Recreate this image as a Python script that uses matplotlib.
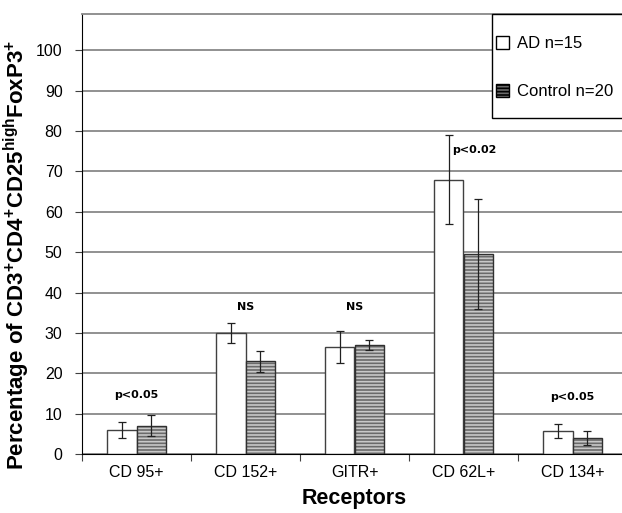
import matplotlib
matplotlib.use("Agg")
import matplotlib.pyplot as plt
from matplotlib.patches import Patch, Rectangle
import numpy as np

plt.rcParams['font.family'] = 'Liberation Sans'
plt.rcParams['mathtext.fontset'] = 'custom'
plt.rcParams['mathtext.rm'] = 'Liberation Sans:bold'
plt.rcParams['mathtext.it'] = 'Liberation Sans:bold'
plt.rcParams['mathtext.bf'] = 'Liberation Sans:bold'

receptors = ["CD 95+", "CD 152+", "GITR+", "CD 62L+", "CD 134+"]
ad_mean = [6.0, 30.0, 26.5, 68.0, 5.7]
ad_err = [2.0, 2.5, 4.0, 11.0, 1.7]
ctrl_mean = [7.0, 23.0, 27.0, 49.5, 4.0]
ctrl_err = [2.6, 2.6, 1.2, 13.7, 1.7]
notes = ["p<0.05", "NS", "NS", "p<0.02", "p<0.05"]
note_y = [14.5, 36.5, 36.5, 75.2, 14.0]
note_dx = [0.0, 0.0, 0.0, 0.1, 0.0]

fig = plt.figure(figsize=(6.22, 5.13), dpi=100)
ax = fig.add_axes([82/622, 1-454/513, 545/622, 440/513])

x = np.arange(len(receptors))
w = 0.275

ax.bar(x - w/2, ad_mean, w, color='white', edgecolor='#404040', linewidth=1.0, zorder=2)
ax.errorbar(x - w/2, ad_mean, yerr=ad_err, fmt='none', ecolor='#202020',
            elinewidth=0.9, capsize=3, capthick=0.9, zorder=4)

plt.rcParams['hatch.color'] = '#c8c8c8'
plt.rcParams['hatch.linewidth'] = 1.2
ax.bar(x + w/2, ctrl_mean, w, color='#6a6a6a', edgecolor='#c8c8c8', hatch='-----',
       linewidth=0, zorder=2)
ax.bar(x + w/2, ctrl_mean, w, color='none', edgecolor='#303030', linewidth=1.0, zorder=3)
ax.errorbar(x + w/2, ctrl_mean, yerr=ctrl_err, fmt='none', ecolor='#202020',
            elinewidth=0.9, capsize=3, capthick=0.9, zorder=4)

for i in range(len(receptors)):
    ax.text(x[i] + note_dx[i], note_y[i], notes[i], ha='center', va='center',
            fontsize=8, fontweight='bold', family='DejaVu Sans', zorder=5)

ax.set_xlim(-0.5, len(receptors) - 0.5)
ax.set_ylim(0, 109)
ax.set_yticks(np.arange(0, 101, 10))
ax.yaxis.grid(True, color='#888888', linewidth=1.3, zorder=0)
ax.set_axisbelow(True)

ax.set_xticks(np.arange(len(receptors) + 1) - 0.5)
ax.set_xticklabels([])
ax.set_xticks(x, minor=True)
ax.set_xticklabels(receptors, minor=True)
ax.tick_params(axis='x', which='major', length=5, direction='out', color='#404040')
ax.tick_params(axis='x', which='minor', length=0, pad=8, labelsize=11.5)
ax.tick_params(axis='y', length=5, direction='out', labelsize=11.5, pad=9, color='#404040')

for s in ['top', 'right']:
    ax.spines[s].set_color('#888888')
    ax.spines[s].set_linewidth(1.3)
ax.spines['left'].set_color('black')
ax.spines['bottom'].set_color('black')

ax.set_xlabel("Receptors", fontsize=15.5, fontweight='bold', labelpad=6)
ax.set_ylabel(r"Percentage of CD3$^{+}$CD4$^{+}$CD25$^{high}$FoxP3$^{+}$",
              fontsize=16, fontweight='bold')
ax.yaxis.set_label_coords(-0.092, 0.452)

# legend box (runs off the right edge like the original)
fig.add_artist(Rectangle((492/622, 1-118/513), 150/622, 104/513, transform=fig.transFigure,
                         facecolor='white', edgecolor='black', linewidth=1.0, zorder=5))
handles = [Patch(facecolor='white', edgecolor='black', label='AD n=15'),
           Patch(facecolor='#6a6a6a', edgecolor='black', hatch='-----', label='Control n=20')]
leg = fig.legend(handles=handles, loc='center left', bbox_to_anchor=(496/622, 1-67.5/513),
                 frameon=False, fontsize=12, labelspacing=1.95,
                 handlelength=0.8, handleheight=0.8, handletextpad=0.45,
                 borderpad=0, borderaxespad=0)
leg.set_zorder(6)

fig.savefig("out.png", dpi=100)
